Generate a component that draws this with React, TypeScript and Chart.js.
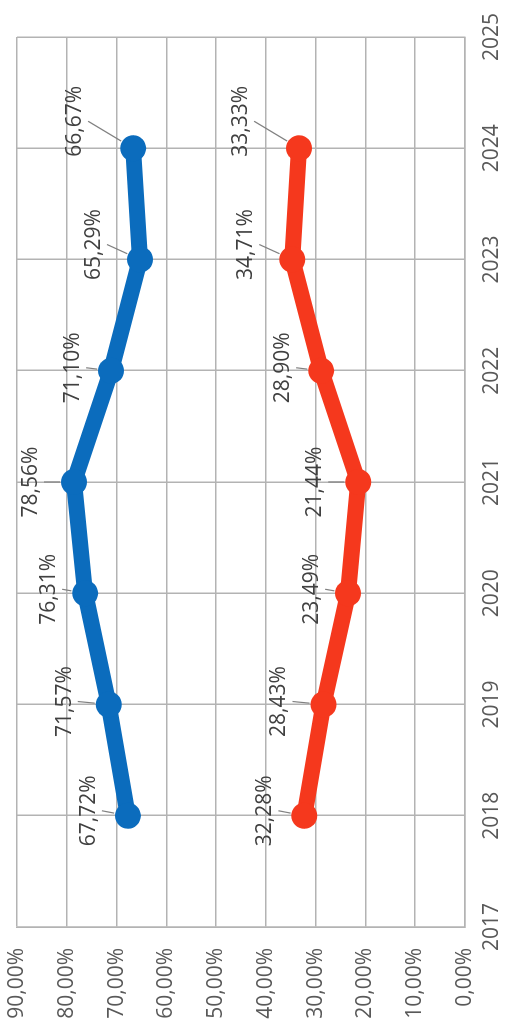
import React, { useEffect, useRef } from "react";
import { Chart, registerables } from "chart.js";

Chart.register(...registerables);

// ---- data ----
const years = [2018, 2019, 2020, 2021, 2022, 2023, 2024];
const blueValues = [67.72, 71.57, 76.31, 78.56, 71.1, 65.29, 66.67];
const redValues = [32.28, 28.43, 23.49, 21.44, 28.9, 34.71, 33.33];
const yearMin = 2017;
const yearMax = 2025;
const pctMin = 0;
const pctMax = 90;
const pctStep = 10;

// ---- label layout (relative nudges, not data) ----
const labelNudgeAlong = [5, 3, 4, 0, 3, 15, 27];
const labelLift = [39, 44, 36, 43, 38, 46, 58];

const W = 1025;
const H = 509;
const FONT = '"Open Sans", "DejaVu Sans", sans-serif';

const fmtPct = (v: number) => v.toFixed(2).replace(".", ",") + "%";

const labelPlugin = {
  id: "pctLabels",
  afterDatasetsDraw(chart: any) {
    const ctx = chart.ctx as CanvasRenderingContext2D;
    ctx.save();
    ctx.font = `21px ${FONT}`;
    ctx.textAlign = "center";
    ctx.textBaseline = "middle";
    chart.data.datasets.forEach((ds: any, di: number) => {
      const meta = chart.getDatasetMeta(di);
      meta.data.forEach((pt: any, i: number) => {
        const x = pt.x;
        const y = pt.y;
        const lx = x + labelNudgeAlong[i];
        const ly = y - labelLift[i];
        const sx = lx;
        const sy = ly + 13;
        const dx = x - sx;
        const dy = y - sy;
        const d = Math.hypot(dx, dy);
        if (d > 16) {
          const ex = x - (dx / d) * 14;
          const ey = y - (dy / d) * 14;
          ctx.strokeStyle = "#808080";
          ctx.lineWidth = 1.2;
          ctx.beginPath();
          ctx.moveTo(sx, sy);
          ctx.lineTo(ex, ey);
          ctx.stroke();
        }
        ctx.fillStyle = "#404040";
        ctx.fillText(fmtPct(ds.data[i].y), lx, ly);
      });
    });
    ctx.restore();
  },
};

export default function App() {
  const ref = useRef<HTMLCanvasElement | null>(null);

  useEffect(() => {
    if (!ref.current) return;
    const mk = (vals: number[]) => years.map((yr, i) => ({ x: yr, y: vals[i] }));
    const common = {
      borderWidth: 16,
      pointRadius: 13,
      pointBorderWidth: 0,
      borderJoinStyle: "round",
      borderCapStyle: "round",
    };
    const chart = new Chart(ref.current, {
      type: "line",
      data: {
        datasets: [
          {
            data: mk(blueValues),
            borderColor: "#0b6cbd",
            backgroundColor: "#0b6cbd",
            ...common,
          },
          {
            data: mk(redValues),
            borderColor: "#f5381d",
            backgroundColor: "#f5381d",
            ...common,
          },
        ],
      },
      options: {
        responsive: false,
        animation: false,
        layout: { padding: { left: 0, right: 37, top: 17, bottom: 0 } },
        plugins: { legend: { display: false }, tooltip: { enabled: false } },
        scales: {
          x: {
            type: "linear",
            min: yearMin,
            max: yearMax,
            ticks: {
              stepSize: 1,
              callback: (v: any) => String(v),
              color: "#595959",
              font: { family: FONT, size: 21 },
              padding: 14,
            },
            grid: { color: "#b3b3b3", lineWidth: 1.5, drawTicks: false },
            border: { display: true, color: "#b3b3b3", width: 1.5 },
            afterFit: (s: any) => {
              s.height = 44;
              s.paddingLeft = 0;
              s.paddingRight = 0;
            },
          },
          y: {
            min: pctMin,
            max: pctMax,
            ticks: {
              stepSize: pctStep,
              callback: (v: any) => Number(v).toFixed(2).replace(".", ",") + "%",
              color: "#595959",
              font: { family: FONT, size: 21 },
              padding: 21,
            },
            grid: { color: "#b3b3b3", lineWidth: 1.5, drawTicks: false },
            border: { display: true, color: "#b3b3b3", width: 1.5 },
            afterFit: (s: any) => {
              s.width = 98;
              s.paddingTop = 0;
              s.paddingBottom = 0;
            },
          },
        },
      },
      plugins: [labelPlugin],
    } as any);
    return () => chart.destroy();
  }, []);

  return (
    <div
      style={{
        position: "fixed",
        left: 0,
        top: 0,
        width: W,
        height: H,
        transformOrigin: "0 0",
        transform: `translateY(${W}px) rotate(-90deg)`,
        background: "#fff",
      }}
    >
      <canvas ref={ref} width={W} height={H} style={{ display: "block" }} />
    </div>
  );
}
